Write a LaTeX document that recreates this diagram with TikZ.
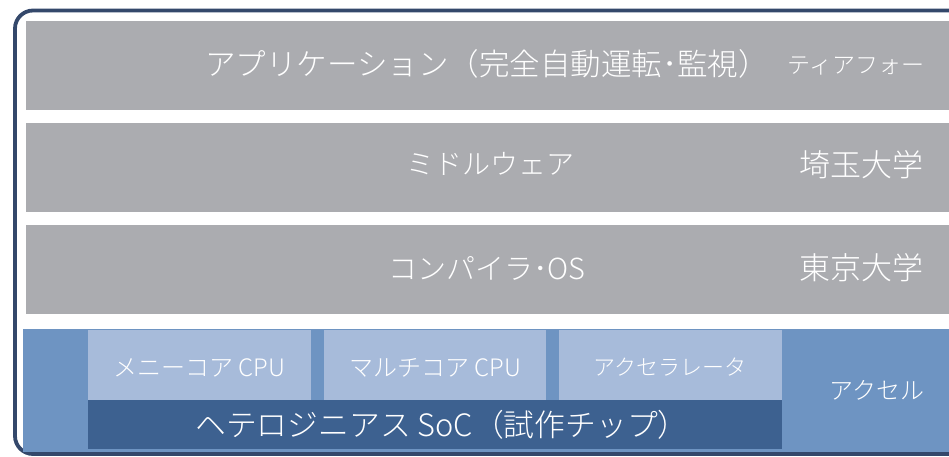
\documentclass[tikz,border=0pt]{standalone}
\usepackage{fontspec}
\setmainfont{Noto Sans CJK JP}[UprightFont=* Light]
\definecolor{layergray}{HTML}{ABACB0}
\definecolor{socblue}{HTML}{6E94C2}
\definecolor{lightblue}{HTML}{A7BBDA}
\definecolor{darkblue}{HTML}{3D6190}
\definecolor{framenavy}{HTML}{34486B}
\tikzset{
  blockbox/.style={draw=none, inner sep=0pt, outer sep=0pt, anchor=north west},
  wtext/.style={text=white, inner sep=0pt, anchor=center},
}
\begin{document}
\begin{tikzpicture}[x=1pt,y=-1pt]
\useasboundingbox (0,0) rectangle (949,456);
\begin{scope}
\clip (0,0) rectangle (949,456);
% outer frame
\draw[framenavy, line width=3.8pt, rounded corners=18pt] (15,10.5) rectangle (990,454);
% layers
\node[blockbox, fill=layergray, minimum width=940pt, minimum height=89pt] (l1) at (26,21) {};
\node[blockbox, fill=layergray, minimum width=940pt, minimum height=89pt] (l2) at (26,123) {};
\node[blockbox, fill=layergray, minimum width=940pt, minimum height=89pt] (l3) at (26,225) {};
\node[blockbox, fill=socblue, minimum width=940pt, minimum height=123pt] (soc) at (23,329) {};
\node[blockbox, fill=lightblue, minimum width=223pt, minimum height=71pt] (c1) at (88,329.5) {};
\node[blockbox, fill=lightblue, minimum width=222pt, minimum height=71pt] (c2) at (324,329.5) {};
\node[blockbox, fill=lightblue, minimum width=223pt, minimum height=71pt] (c3) at (559,329.5) {};
\node[blockbox, fill=darkblue, minimum width=694pt, minimum height=49pt] (het) at (88,400) {};
\end{scope}
% texts
\node[wtext, font=\fontsize{30.5}{33}\selectfont] (t1) at (487,64) {アプリケーション（完全自動運転･監視）};
\node[wtext, font=\fontsize{23}{26}\selectfont] (r1) at (856,66) {ティアフォー};
\node[wtext, font=\fontsize{28}{30}\selectfont] (t2) at (490,164) {ミドルウェア};
\node[wtext, font=\fontsize{31}{34}\selectfont] (r2) at (861,165) {埼玉大学};
\node[wtext, font=\fontsize{29}{32}\selectfont] (t3) at (487,268) {コンパイラ･OS};
\node[wtext, font=\fontsize{31}{34}\selectfont] (r3) at (861,268) {東京大学};
\node[wtext, font=\fontsize{24}{26}\selectfont] (tc1) at (199,368) {メニーコア CPU};
\node[wtext, font=\fontsize{24}{26}\selectfont] (tc2) at (435,368) {マルチコア CPU};
\node[wtext, font=\fontsize{22}{24}\selectfont] (tc3) at (670,367) {アクセラレータ};
\node[wtext, font=\fontsize{24}{27}\selectfont] (ta) at (877,390) {アクセル};
\node[wtext, font=\fontsize{30.8}{33}\selectfont] (th) at (442,425) {ヘテロジニアス SoC（試作チップ）};
\end{tikzpicture}
\end{document}
